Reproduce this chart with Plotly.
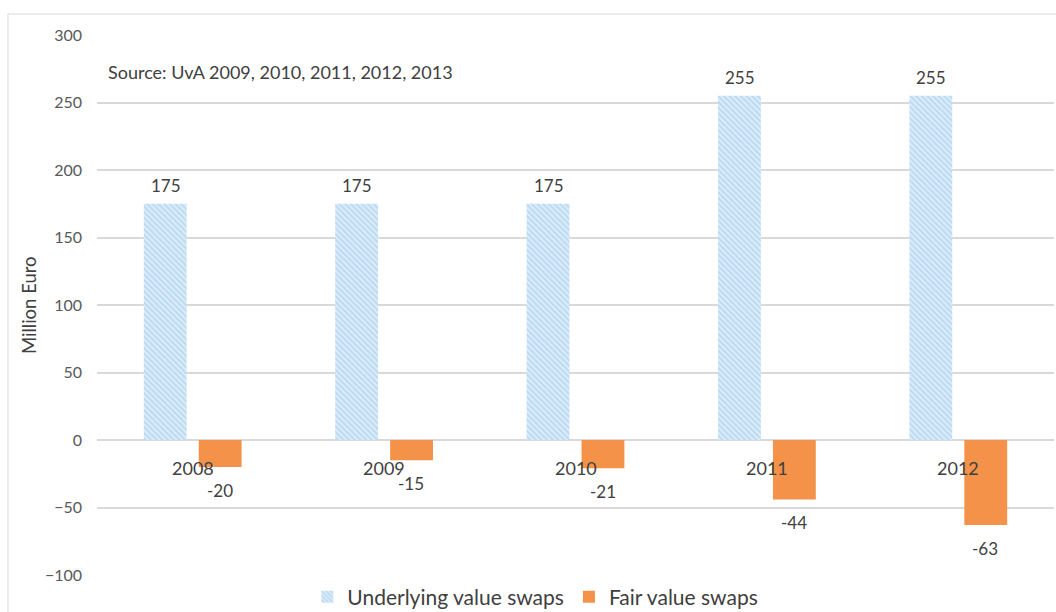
import plotly.graph_objects as go

years = ["2008", "2009", "2010", "2011", "2012"]
underlying = [175, 175, 175, 255, 255]
fair = [-20, -15, -21, -44, -63]
series_names = ["Underlying value swaps", "Fair value swaps"]
y_ticks = [-100, -50, 0, 50, 100, 150, 200, 250, 300]
source_note = "Source: UvA 2009, 2010, 2011, 2012, 2013"
y_title = "Million Euro"

FONT = "Lato, Open Sans, sans-serif"
TXT = "#404040"
BLUE = "#96c6ec"
BLUE_BG = "#ddedf9"
ORANGE = "#f4924a"

fig = go.Figure()
fig.add_trace(go.Bar(
    x=years, y=underlying, name=series_names[0],
    marker=dict(color=BLUE_BG, line=dict(width=0),
                pattern=dict(shape="\\", fgcolor=BLUE, bgcolor=BLUE_BG, size=4, solidity=0.5)),
))
fig.add_trace(go.Bar(
    x=years, y=fair, name=series_names[1],
    marker=dict(color=ORANGE, line=dict(width=0)),
))

annotations = []
for i, v in enumerate(underlying):
    annotations.append(dict(x=i, y=v, xref="x", yref="y", text=str(v), showarrow=False,
                            xshift=-27, yshift=18, font=dict(size=17, color=TXT, family=FONT)))
for i, v in enumerate(fair):
    annotations.append(dict(x=i, y=v, xref="x", yref="y", text=str(v), showarrow=False,
                            xshift=27, yshift=-23, font=dict(size=17, color=TXT, family=FONT)))
for i, yr in enumerate(years):
    annotations.append(dict(x=i, y=0, xref="x", yref="y", text=yr, showarrow=False,
                            xshift=0, yshift=-28, font=dict(size=18, color=TXT, family=FONT)))
annotations.append(dict(x=0.009, y=0.931, xref="paper", yref="paper", text=source_note,
                        showarrow=False, xanchor="left", yanchor="middle",
                        font=dict(size=18, color=TXT, family=FONT)))
annotations.append(dict(x=-0.071, y=0.5, xref="paper", yref="paper", text=y_title,
                        showarrow=False, textangle=-90, xanchor="center", yanchor="middle",
                        font=dict(size=18.5, color=TXT, family=FONT)))

fig.update_layout(
    width=1056, height=612,
    margin=dict(l=97, r=2, t=35, b=37, autoexpand=False),
    paper_bgcolor="white", plot_bgcolor="white",
    barmode="group", bargap=0.426, bargroupgap=0.22,
    font=dict(family=FONT, color=TXT),
    showlegend=True,
    legend=dict(orientation="h", x=0.458, xanchor="center", y=-0.041, yanchor="middle",
                font=dict(size=21, color=TXT, family=FONT), itemwidth=30,
                tracegroupgap=0, bgcolor="rgba(0,0,0,0)"),
    annotations=annotations,
    shapes=[dict(type="rect", xref="paper", yref="paper", x0=-0.093, x1=1.01,
                 y0=-0.08, y1=1.039, line=dict(color="#d9d9d9", width=1), layer="below")],
)
fig.update_xaxes(type="category", range=[-0.5, len(years) - 0.5], showticklabels=False,
                 showgrid=False, zeroline=False, showline=False, ticks="", automargin=False)
fig.update_yaxes(range=[-100, 300], tickvals=y_ticks, showgrid=True, gridcolor="#d9d9d9",
                 gridwidth=1.5, zeroline=True, zerolinecolor="#d9d9d9", zerolinewidth=1.5,
                 showline=False, ticks="", ticklabelstandoff=14, automargin=False,
                 tickfont=dict(size=16, color="#595959", family=FONT))

fig.write_html("out.html", config={"displayModeBar": False},
               post_script="document.body.style.margin='0px';")
